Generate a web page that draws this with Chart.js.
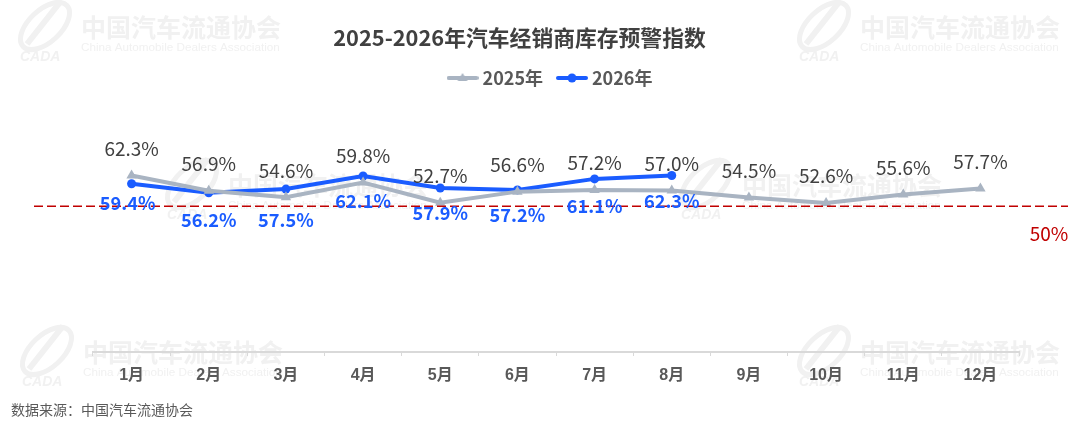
<!DOCTYPE html>
<html><head><meta charset="utf-8">
<style>html,body{margin:0;padding:0;background:#fff}#w{width:1080px;height:428px}</style>
<script src="https://cdn.jsdelivr.net/npm/chart.js@4"></script></head>
<body><div id="w"><canvas id="c" width="1080" height="428"></canvas></div>
<script>
const months=['1月','2月','3月','4月','5月','6月','7月','8月','9月','10月','11月','12月'];
const values2025=[62.3,56.9,54.6,59.8,52.7,56.6,57.2,57.0,54.5,52.6,55.6,57.7];
const values2026=[59.4,56.2,57.5,62.1,57.9,57.2,61.1,62.3];
const refLineLevel=[51.4];
const refLineLabel='50%';
const titleText='2025-2026年汽车经销商库存预警指数';
const sourceText='数据来源：中国汽车流通协会';
const labelNudge2026=[-7,1,5,-1,-1,-1,1,0];
const labelShift2026=[-4,0,0,0,0,0,0,0];
const GRAY='#a9b4c2',BLUE='#1a5cff',RED='#c00000',LABEL='#404040',CJK='"Noto Sans CJK SC","Noto Sans",sans-serif';

function legendIcon(color,style){
  const k=document.createElement('canvas');k.width=32;k.height=12;
  const g=k.getContext('2d');g.strokeStyle=color;g.fillStyle=color;g.lineWidth=4;g.lineCap='round';
  g.beginPath();g.moveTo(2,6);g.lineTo(30,6);g.stroke();g.beginPath();
  if(style==='triangle'){g.moveTo(16,1);g.lineTo(21,9);g.lineTo(11,9);g.closePath();}
  else g.arc(16,6,4.5,0,Math.PI*2);
  g.fill();return k;
}
function watermark(ctx,x,y){
  ctx.save();
  ctx.fillStyle='#f1f1f1';ctx.strokeStyle='#f1f1f1';
  ctx.font='600 25px '+CJK;ctx.textAlign='left';ctx.textBaseline='middle';
  ctx.fillText('中国汽车流通协会',x,y);
  ctx.font='11.7px "Liberation Sans"';
  ctx.fillText('China Automobile Dealers Association',x,y+21);
  ctx.lineWidth=5;
  ctx.beginPath();ctx.ellipse(x-36,y-1,30,16,-0.75,0,Math.PI*2);ctx.stroke();
  ctx.lineWidth=6;
  ctx.beginPath();ctx.moveTo(x-54,y+17);ctx.lineTo(x-20,y-26);ctx.stroke();
  ctx.font='italic bold 14px "Liberation Sans"';
  ctx.fillText('CADA',x-61,y+30);
  ctx.restore();
}
const decor={id:'decor',
  beforeDraw(ch){
    const c=ch.ctx;
    [[81,27],[860,27],[228,185],[742,185],[83,352],[860,352]].forEach(p=>watermark(c,p[0],p[1]));
    c.save();c.font='700 21.8px '+CJK;c.fillStyle='#404040';c.textAlign='center';c.textBaseline='middle';
    c.fillText(titleText,519.5,38);c.restore();
  },
  afterDatasetsDraw(ch){
    const c=ch.ctx,y=ch.scales.y.getPixelForValue(refLineLevel[0]);
    c.save();
    c.strokeStyle=RED;c.lineWidth=1.5;c.setLineDash([9,4]);
    c.beginPath();c.moveTo(34,y);c.lineTo(1068,y);c.stroke();c.setLineDash([]);
    c.textAlign='center';c.textBaseline='middle';
    c.font='400 19px '+CJK;c.fillStyle=RED;c.fillText(refLineLabel,1049,y+27);
    const m0=ch.getDatasetMeta(0).data,m1=ch.getDatasetMeta(1).data;
    c.font='400 19px '+CJK;c.fillStyle=LABEL;
    values2025.forEach((v,i)=>c.fillText(v.toFixed(1)+'%',m0[i].x,m0[i].y-27));
    c.font='700 18.2px '+CJK;c.fillStyle=BLUE;
    values2026.forEach((v,i)=>c.fillText(v.toFixed(1)+'%',m1[i].x+labelShift2026[i],m1[i].y+26+labelNudge2026[i]));
    c.font='400 14px '+CJK;c.fillStyle='#595959';c.textAlign='left';
    c.fillText(sourceText,11,410);
    c.restore();
  }
};
const makeSet=(label,data,color,style,r)=>({label,data,borderColor:color,backgroundColor:color,
  borderWidth:4,pointStyle:style,pointRadius:r,pointHoverRadius:r,tension:0,clip:false,
  pointBorderWidth:0,fill:false,borderCapStyle:'round'});
new Chart(document.getElementById('c'),{
  type:'line',
  data:{labels:months,datasets:[
    makeSet('2025年',values2025,GRAY,'triangle',6),
    makeSet('2026年',values2026,BLUE,'circle',4.5)]},
  plugins:[decor],
  options:{responsive:false,animation:false,devicePixelRatio:1,
    layout:{padding:{left:85,right:61,top:51,bottom:0}},
    plugins:{
      tooltip:{enabled:false},
      title:{display:false},
      legend:{display:true,position:'top',align:'center',
        labels:{usePointStyle:true,pointStyleWidth:22,boxHeight:12,padding:18,color:'#595959',
          font:{family:CJK,size:18,weight:'700'},
          generateLabels(ch){return ch.data.datasets.map((d,i)=>({text:d.label,fontColor:'#595959',datasetIndex:i,lineWidth:0,
            pointStyle:legendIcon(d.borderColor,d.pointStyle)}));}}}
    },
    scales:{
      x:{offset:true,
        afterFit(s){s.height=76;},
        border:{color:'#d9d9d9',width:2},
        grid:{drawOnChartArea:false,drawTicks:true,tickLength:4,offset:true,color:'#d9d9d9'},
        ticks:{color:'#595959',padding:10,maxRotation:0,autoSkip:false,font:{family:'"Liberation Sans",'+CJK,size:16,weight:'700'}}},
      y:{display:true,min:0,max:90,afterFit(s){s.width=8;},border:{display:false},grid:{display:false},ticks:{display:false}}
    }
  }
});
</script></body></html>
